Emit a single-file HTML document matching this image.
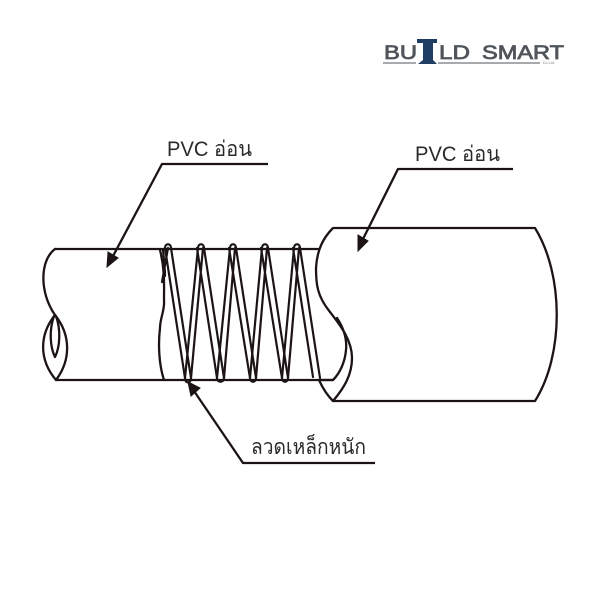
<!DOCTYPE html>
<html><head><meta charset="utf-8"><style>
html,body{margin:0;padding:0;background:#fff}
svg{display:block}
text{font-family:"Liberation Sans","Noto Sans CJK SC",sans-serif}
</style></head><body>
<svg width="600" height="600" viewBox="0 0 600 600" xmlns="http://www.w3.org/2000/svg">
<rect width="600" height="600" fill="#fff"/>
<!-- logo -->
<g fill="#50555b" font-size="19" stroke="#50555b" stroke-width=".75">
<text x="384" y="59" textLength="33" lengthAdjust="spacingAndGlyphs">BU</text>
<text x="439" y="59" textLength="31" lengthAdjust="spacingAndGlyphs">LD</text>
<text x="482" y="59" textLength="82" lengthAdjust="spacingAndGlyphs">SMART</text>
</g>
<path d="M383 63H416M438 63H540" stroke="#8a8d90" stroke-width="1.400" fill="none"/>
<path d="M417 39H437V43H433V60L437 64H418L423 60V43H417Z" fill="#1f3d63"/>
<text x="543" y="64" font-size="3.500" fill="#777">Co.,Ltd</text>
<!-- left tube -->
<g fill="none" stroke="#1c1414" stroke-width="2.300" stroke-linecap="round" stroke-linejoin="round">
<path d="M55 249H318M56 380H333"/>
<path d="M55 249C40 260 39 292 55 315"/>
<path d="M55 315C39 335 39 360 56 380C71 360 71 335 55 315Z"/>
<path d="M54 316C49 330 50 347 55 357C60 347 61 330 56 316"/>
<path d="M160 250C165 270 164 285 164 300C165 310 160 318 160 328C158 345 159 365 164 380"/>
<!-- right tube -->
<path d="M333 228H535C564 275 564 355 535 401H333C344 388 352 375 352 358C352 340 340 325 330 312C317 296 316 284 316 268C317 250 323 238 333 228Z"/>
<path d="M337 318C345 330 347 340 346 350C345 362 340 373 333 380H319C323 389 328 396 333 401"/>
</g>
<!-- coil -->
<g fill="none" stroke="#1c1414" stroke-width="2.200" stroke-linecap="round" stroke-linejoin="round">
<path d="M163 250C164 260 165 268 165 276M171 248L191 378M165 248L185 378M165 248C165 243 171 243 171 248M168 248L162 282"/>
<path d="M185 378L198 248C198 243 204 243 204 248L224 378C224 383 217 383 217 378L197 248M191 378L203 248"/>
<path d="M217 378L230 248C230 243 236 243 236 248L256 378C256 383 250 383 250 378L229 248M224 378L235 248"/>
<path d="M250 378L262 248C262 243 268 243 268 248L288 378C288 383 282 383 282 378L261 248M256 378L267 248"/>
<path d="M282 378L294 248C294 243 300 243 300 248L320 378M293 248L313 377M288 378L299 248"/>
<path d="M185 378C185 384 191 384 191 378"/>
</g>
<!-- leaders -->
<path d="M268 164H162L112 258M513 169H398L362 241M375 463H243L194 391" fill="none" stroke="#1c1414" stroke-width="2.300" stroke-linejoin="round"/>
<path d="M107 267L108 252L118 258Z M358 251L358 235L368 241Z M188 382L200 388L191 396Z" fill="#1c1414" stroke="#1c1414"/>
<!-- labels -->
<g fill="#2a2a2a" font-size="21.500">
<text x="167" y="156" textLength="85" lengthAdjust="spacingAndGlyphs">PVC อ่อน</text>
<text x="415" y="161" textLength="85" lengthAdjust="spacingAndGlyphs">PVC อ่อน</text>
<text x="251" y="454" textLength="115" lengthAdjust="spacingAndGlyphs">ลวดเหล็กหนัก</text>
</g>
</svg>
</body></html>
